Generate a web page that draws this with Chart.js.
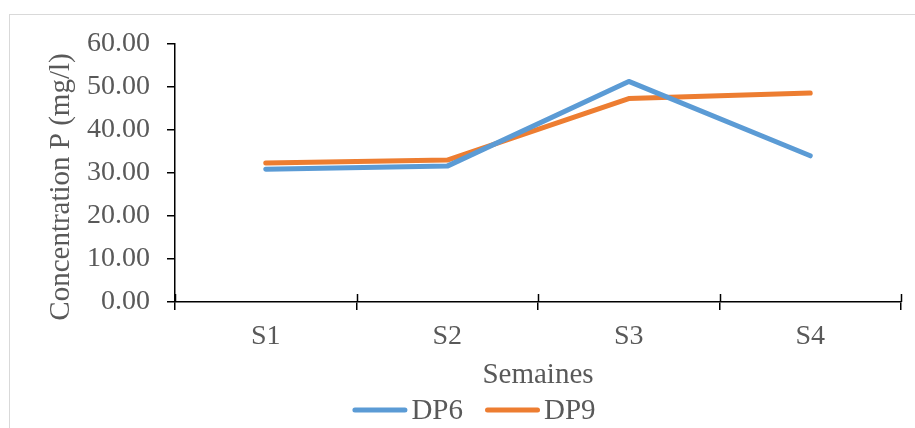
<!DOCTYPE html>
<html>
<head>
<meta charset="utf-8">
<script src="https://cdn.jsdelivr.net/npm/chart.js@4/dist/chart.umd.min.js"></script>
<style>
	html, body { margin: 0; padding: 0; background: #fff; overflow: hidden; }
	#wrap { position: relative; width: 915px; height: 428px; }
	#frame { position: absolute; left: 9px; top: 14px; width: 1000px; height: 1000px; border: 1px solid #d9d9d9; box-sizing: border-box; }
	#chart { position: absolute; left: 0; top: 0; }
</style>
</head>
<body>
<div id="wrap">
	<div id="frame"></div>
	<canvas id="chart" width="915" height="428"></canvas>
</div>
<script>
const semaines = ["S1", "S2", "S3", "S4"];
const dp6 = [30.9, 31.6, 51.3, 34.0];
const dp9 = [32.3, 33.0, 47.3, 48.6];
const yTicks = [0, 10, 20, 30, 40, 50, 60];
const yTitle = "Concentration P (mg/l)";

const serif = "'Liberation Serif', 'Times New Roman', serif";
const grey = "#595959";

// petits traits qui traversent l'axe X (style Excel)
const crossTicks = {
	id: "crossTicks",
	afterDraw(chart) {
		const x = chart.scales.x;
		const ctx = chart.ctx;
		const step = (x.right - x.left) / semaines.length;
		ctx.save();
		ctx.strokeStyle = "#000";
		ctx.lineWidth = 1.5;
		for (let i = 0; i <= semaines.length; i++) {
			const px = Math.round(x.left + i * step) + 0.5;
			ctx.beginPath();
			ctx.moveTo(px, x.top - 8);
			ctx.lineTo(px, x.top);
			ctx.stroke();
		}
		ctx.restore();
	},
};

// titre vertical, placé comme dans le graphique Excel (un peu plus bas que le centre de l'axe)
const yTitlePlugin = {
	id: "yTitlePlugin",
	afterDraw(chart) {
		const ctx = chart.ctx;
		ctx.save();
		ctx.translate(61, 187);
		ctx.rotate(-Math.PI / 2);
		ctx.font = `29px ${serif}`;
		ctx.fillStyle = grey;
		ctx.textAlign = "center";
		ctx.textBaseline = "middle";
		ctx.fillText(yTitle, 0, 0);
		ctx.restore();
	},
};

// légende en bas, trait long + texte collé comme dans Excel
const excelLegend = {
	id: "excelLegend",
	afterDraw(chart) {
		const ctx = chart.ctx;
		const lineLen = 55, gap = 4, itemGap = 22, y = 410, center = 474;
		ctx.save();
		ctx.font = `29px ${serif}`;
		const items = chart.data.datasets.map(ds => ({ ds, w: ctx.measureText(ds.label).width }));
		const total = items.reduce((s, it) => s + lineLen + gap + it.w, 0) + itemGap * (items.length - 1);
		let x = center - total / 2;
		items.forEach(({ ds, w }) => {
			ctx.strokeStyle = ds.borderColor;
			ctx.lineWidth = 5;
			ctx.lineCap = "round";
			ctx.beginPath();
			ctx.moveTo(x + 2.5, y);
			ctx.lineTo(x + lineLen - 2.5, y);
			ctx.stroke();
			ctx.fillStyle = grey;
			ctx.textBaseline = "middle";
			ctx.fillText(ds.label, x + lineLen + gap, y + 1);
			x += lineLen + gap + w + itemGap;
		});
		ctx.restore();
	},
};

new Chart(document.getElementById("chart").getContext("2d"), {
	type: "line",
	data: {
		labels: semaines,
		datasets: [
			{
				label: "DP6",
				data: dp6,
				borderColor: "#5B9BD5",
				backgroundColor: "#5B9BD5",
				borderWidth: 5,
				borderCapStyle: "round",
				borderJoinStyle: "round",
				pointRadius: 0,
				tension: 0,
			},
			{
				label: "DP9",
				data: dp9,
				borderColor: "#ED7D31",
				backgroundColor: "#ED7D31",
				borderWidth: 5,
				borderCapStyle: "round",
				borderJoinStyle: "round",
				pointRadius: 0,
				tension: 0,
			},
		],
	},
	options: {
		responsive: false,
		animation: false,
		layout: { padding: { top: 44, right: 14, bottom: 35, left: 0 } },
		plugins: {
			tooltip: { enabled: false },
			legend: { display: false },
		},
		scales: {
			x: {
				offset: true,
				border: { color: "#000", width: 1.5 },
				grid: { offset: true, drawOnChartArea: false, drawTicks: true, tickLength: 8, color: "#000", lineWidth: 1.5 },
				ticks: { color: grey, font: { family: serif, size: 28 }, padding: 10 },
				title: { display: true, text: "Semaines", color: grey, font: { family: serif, size: 29 }, padding: { top: 0, bottom: 0 } },
				afterFit(scale) { scale.height = 91; },
			},
			y: {
				min: 0,
				max: 60,
				afterBuildTicks(scale) { scale.ticks = yTicks.map(v => ({ value: v })); },
				border: { color: "#000", width: 1.5 },
				grid: { drawOnChartArea: false, drawTicks: true, tickLength: 8, color: "#000", lineWidth: 1.5 },
				ticks: { color: grey, font: { family: serif, size: 28 }, padding: 17, callback: v => Number(v).toFixed(2) },
				title: { display: false },
				afterFit(scale) { scale.width = 175; },
			},
		},
	},
	plugins: [crossTicks, yTitlePlugin, excelLegend],
});
</script>
</body>
</html>
